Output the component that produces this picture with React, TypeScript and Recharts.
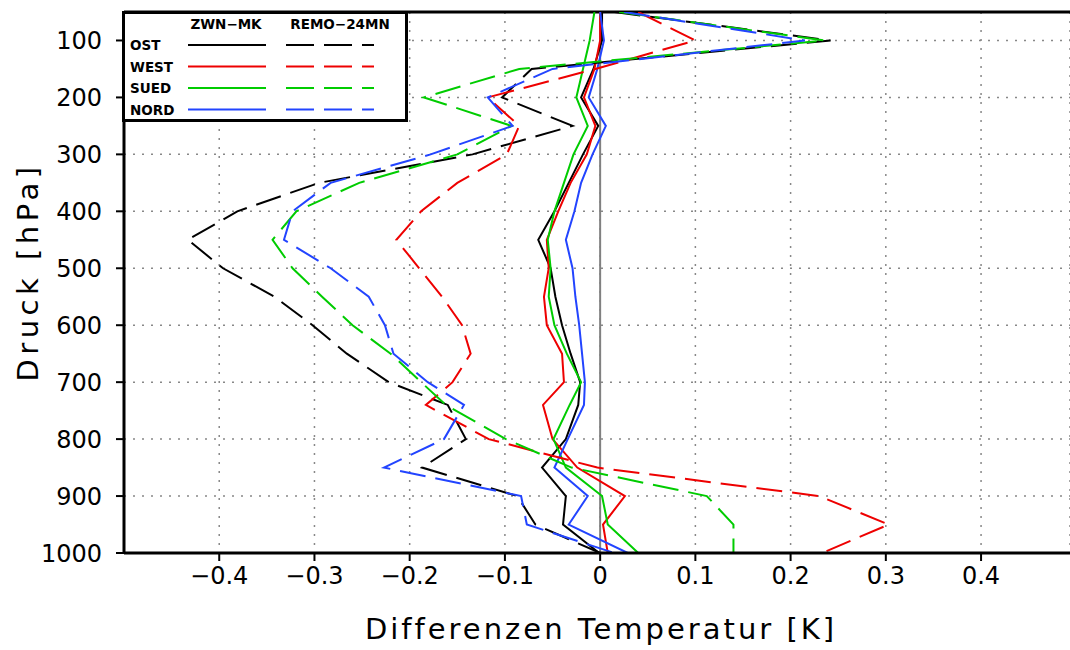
import React from 'react';
import { LineChart, Line, XAxis, YAxis, CartesianGrid, ReferenceLine } from 'recharts';

// pressure levels [hPa]
const levels = [50, 100, 150, 200, 250, 300, 350, 400, 450, 500, 550, 600, 650, 700, 740, 800, 850, 900, 950, 1000];

// ZWN-MK (solid)
const ostZwn = [0.002, 0.002, -0.007, -0.02, -0.002, -0.018, -0.033, -0.048, -0.065, -0.052, -0.047, -0.04, -0.031, -0.021, -0.023, -0.036, -0.061, -0.036, -0.039, -0.001];
const westZwn = [0.0, 0.0, -0.006, -0.017, -0.005, -0.014, -0.031, -0.044, -0.056, -0.054, -0.059, -0.056, -0.04, -0.038, -0.06, -0.05, -0.024, 0.026, 0.003, 0.008];
const suedZwn = [-0.006, -0.011, -0.018, -0.025, -0.013, -0.028, -0.038, -0.048, -0.055, -0.052, -0.054, -0.048, -0.035, -0.02, -0.032, -0.049, -0.036, 0.002, 0.008, 0.04];
const nordZwn = [0.0, 0.004, -0.003, -0.012, 0.006, -0.008, -0.02, -0.027, -0.036, -0.029, -0.026, -0.022, -0.019, -0.016, -0.017, -0.034, -0.048, -0.013, -0.033, 0.029];

// REMO-24MN (dashed)
const ostRemo = [0.015, 0.242, -0.072, -0.103, -0.029, -0.134, -0.295, -0.381, -0.433, -0.396, -0.342, -0.302, -0.266, -0.222, -0.16, -0.141, -0.187, -0.087, -0.068, 0.0];
const westRemo = [0.04, 0.1, -0.005, -0.118, -0.085, -0.098, -0.15, -0.188, -0.214, -0.19, -0.166, -0.145, -0.136, -0.155, -0.183, -0.117, -0.003, 0.23, 0.303, 0.233];
const suedRemo = [0.02, 0.236, -0.085, -0.185, -0.093, -0.15, -0.253, -0.319, -0.344, -0.323, -0.292, -0.26, -0.22, -0.188, -0.162, -0.099, -0.03, 0.112, 0.14, 0.14];
const nordRemo = [0.025, 0.215, -0.05, -0.118, -0.092, -0.178, -0.283, -0.323, -0.332, -0.283, -0.243, -0.226, -0.217, -0.181, -0.143, -0.164, -0.227, -0.083, -0.077, 0.015];

const regions = ['OST', 'WEST', 'SUED', 'NORD'];
const xTicks = [-0.4, -0.3, -0.2, -0.1, 0, 0.1, 0.2, 0.3, 0.4];
const yTicks = [100, 200, 300, 400, 500, 600, 700, 800, 900, 1000];

const colors: Record<string, string> = {
  OST: '#000000',
  WEST: '#ee0000',
  SUED: '#00cc00',
  NORD: '#2244ff',
};

const data = levels.map((p, i) => ({
  p,
  OST_zwn: ostZwn[i],
  WEST_zwn: westZwn[i],
  SUED_zwn: suedZwn[i],
  NORD_zwn: nordZwn[i],
  OST_remo: ostRemo[i],
  WEST_remo: westRemo[i],
  SUED_remo: suedRemo[i],
  NORD_remo: nordRemo[i],
}));

const DASH = '26 10';
const font = '"DejaVu Sans", sans-serif';

const fmtX = (v: number) => (v === 0 ? '0' : v.toFixed(1).replace('-', '\u2212'));

const LegendBox = () => {
  const rowY = [34, 55.5, 77, 98.5];
  return (
    <svg width={286} height={111} style={{ position: 'absolute', left: 122, top: 11 }}>
      <rect x={1.5} y={1.5} width={283} height={108} fill="#fff" stroke="#000" strokeWidth={3} />
      <g fontFamily={font} fontWeight={700} fontSize={13.5} fill="#000">
        <text x={104} y={18} textAnchor="middle">ZWN{'\u2212'}MK</text>
        <text x={218} y={18} textAnchor="middle">REMO{'\u2212'}24MN</text>
        {regions.map((r, i) => (
          <text key={r} x={8} y={rowY[i] + 5}>{r}</text>
        ))}
      </g>
      {regions.map((r, i) => (
        <g key={r}>
          <line x1={66} x2={144} y1={rowY[i]} y2={rowY[i]} stroke={colors[r]} strokeWidth={2} />
          <line x1={164} x2={252} y1={rowY[i]} y2={rowY[i]} stroke={colors[r]} strokeWidth={2} strokeDasharray="28 10" />
        </g>
      ))}
    </svg>
  );
};

export default function App() {
  return (
    <div style={{ position: 'absolute', left: 0, top: 0, width: 1070, height: 650, background: '#fff' }}>
      <LineChart
        width={1070}
        height={650}
        data={data}
        layout="vertical"
        margin={{ top: 12, right: 0, bottom: 0, left: 0 }}
      >
        <CartesianGrid stroke="#888" strokeDasharray="2 7" strokeWidth={1.5} />
        <XAxis
          type="number"
          domain={[-0.5, 0.4934]}
          allowDataOverflow
          ticks={xTicks}
          tickFormatter={fmtX}
          height={97}
          tickSize={8}
          tickMargin={6}
          axisLine={{ stroke: '#000', strokeWidth: 3 }}
          tickLine={{ stroke: '#000', strokeWidth: 2 }}
          tick={{ fontSize: 24, fill: '#000', fontFamily: font }}
        />
        <YAxis
          type="number"
          dataKey="p"
          domain={[50, 1000]}
          allowDataOverflow
          ticks={yTicks}
          width={124}
          tickSize={8}
          tickMargin={14}
          axisLine={{ stroke: '#000', strokeWidth: 3 }}
          tickLine={{ stroke: '#000', strokeWidth: 2 }}
          tick={{ fontSize: 24, fill: '#000', fontFamily: font }}
        />
        <ReferenceLine x={0} stroke="#808080" strokeWidth={2} />
        <ReferenceLine y={50} stroke="#000" strokeWidth={3} />
        {regions.map((r) => (
          <Line
            key={r + '_zwn'}
            dataKey={r + '_zwn'}
            stroke={colors[r]}
            strokeWidth={2}
            dot={false}
            type="linear"
            isAnimationActive={false}
          />
        ))}
        {regions.map((r) => (
          <Line
            key={r + '_remo'}
            dataKey={r + '_remo'}
            stroke={colors[r]}
            strokeWidth={2}
            strokeDasharray={DASH}
            dot={false}
            type="linear"
            isAnimationActive={false}
          />
        ))}
      </LineChart>
      <div
        style={{
          position: 'absolute',
          left: 601,
          top: 612,
          transform: 'translateX(-50%)',
          fontFamily: font,
          fontSize: 29,
          letterSpacing: 3,
          whiteSpace: 'nowrap',
        }}
      >
        Differenzen Temperatur [K]
      </div>
      <div
        style={{
          position: 'absolute',
          left: 28,
          top: 272,
          transform: 'translate(-50%, -50%) rotate(-90deg)',
          fontFamily: font,
          fontSize: 29,
          letterSpacing: 4.5,
          whiteSpace: 'nowrap',
        }}
      >
        Druck [hPa]
      </div>
      <LegendBox />
    </div>
  );
}
